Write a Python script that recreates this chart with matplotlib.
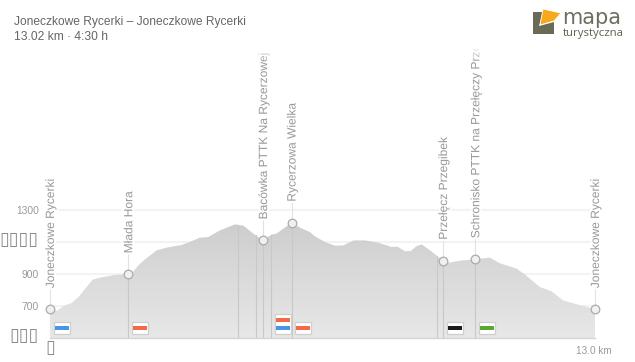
import numpy as np
import matplotlib
matplotlib.use("Agg")
import matplotlib.pyplot as plt
import matplotlib.patheffects as pe
from matplotlib.patches import Polygon, Rectangle
from matplotlib.transforms import Bbox, ScaledTranslation

plt.rcParams['font.family'] = ['Liberation Sans', 'DejaVu Sans']

W, H = 635, 362
DPI = 100

profile_km = [0, .16, .32, .52, .68, 1.02, 1.19, 1.55, 1.87, 1.95, 2.11, 2.31, 2.55, 2.79, 3.14, 3.34,
              3.58, 3.78, 4.06, 4.42, 4.62, 4.86, 5.09, 5.29, 5.41, 5.77, 5.97, 6.21, 6.33, 6.57,
              6.81, 7.01, 7.25, 7.52, 7.84, 8.16, 8.30, 8.48, 8.62, 8.76, 8.88, 9.08, 9.39, 9.55,
              9.79, 10.15, 10.51, 10.75, 11.15, 11.34, 11.70, 11.98, 12.26, 12.62, 13.02]
profile_m = [680, 669, 700, 719, 756, 865, 877, 894, 898, 902, 954, 1000, 1048, 1065, 1081, 1100,
             1127, 1131, 1173, 1210, 1202, 1152, 1110, 1146, 1152, 1221, 1190, 1162, 1135, 1100,
             1077, 1079, 1110, 1110, 1096, 1069, 1071, 1042, 1044, 1075, 1085, 1048, 983, 971,
             983, 992, 1002, 967, 933, 898, 819, 792, 735, 708, 680]

waypoint_names = ["Joneczkowe Rycerki", "Młada Hora", "Bacówka PTTK Na Rycerzowej", "Rycerzowa Wielka",
                  "Przełęcz Przegibek", "Schronisko PTTK na Przełęczy Przegibek", "Joneczkowe Rycerki"]
waypoint_km = [0, 1.87, 5.09, 5.77, 9.39, 10.16, 13.02]
waypoint_m = [680, 898, 1110, 1221, 983, 992, 680]

junction_km = [1.87, 4.50, 4.91, 5.09, 5.29, 5.77, 9.25, 9.39, 10.16]

trail_km = [0, 1.87, 5.29, 5.77, 9.39, 10.16]
trail_colors = [["#4796e6"], ["#f4694a"], ["#4796e6", "#f4694a"], ["#f4694a"], ["#1c1c1c"], ["#5aa832"]]

y_ticks = [500, 700, 900, 1100, 1300]
y_labels = ["▯▯▯", "700", "900", "▯▯▯▯", "1300"]
x_ticks = [0, 13.0]
x_labels = ["▯", "13.0 km"]

title_lines = ["Joneczkowe Rycerki – Joneczkowe Rycerki", "13.02 km · 4:30 h"]

GREY = "#999999"

fig = plt.figure(figsize=(W / DPI, H / DPI), dpi=DPI, facecolor="white")


def fx(x):
    return x / W


def fy(y):
    return 1 - y / H


ax_left, ax_right, ax_top, ax_bottom = 50, 595, 47, 338
ax = fig.add_axes([fx(ax_left), fy(ax_bottom), (ax_right - ax_left) / W, (ax_bottom - ax_top) / H])
ax.set_xlim(0, 13.02)
ax.set_ylim(500, 500 + (ax_bottom - ax_top) * 6.25)
for s in ax.spines.values():
    s.set_visible(False)
ax.patch.set_alpha(0)

# grid
for t in y_ticks[1:]:
    ax.axhline(t, color="#f3f3f3", lw=1.5, zorder=1)
ax.axhline(500, color="#d6d6d6", lw=1.0, zorder=6, clip_on=False)

# gradient-filled profile
poly = ax.fill_between(profile_km, profile_m, 500, color="none", lw=0, zorder=2)
grad = np.linspace(0, 1, 256)[:, None]
img = ax.imshow(grad, cmap=matplotlib.colors.LinearSegmentedColormap.from_list("g", ["#cbcbcb", "#e7e7e7"]),
                extent=[0, 13.02, 500, 1221], aspect="auto", zorder=2, alpha=0.95, origin="upper")
img.set_clip_path(poly.get_paths()[0], transform=ax.transData)
ax.set_xlim(0, 13.02)
ax.set_ylim(500, 500 + (ax_bottom - ax_top) * 6.25)

# junction lines
for k in junction_km:
    ax.plot([k, k], [500, np.interp(k, profile_km, profile_m)], color="#c8c8c8", lw=0.8, zorder=3)

# waypoint stems, labels, markers
label_clip = Bbox([[ax_left - 20, 0], [ax_right + 20, H - ax_top]])
for name, k, m in zip(waypoint_names, waypoint_km, waypoint_m):
    ax.plot([k, k], [m, m + 125], color="#e2e2e2", lw=0.8, zorder=4, clip_on=False)
    t = ax.annotate(name, (k, m), xytext=(1, 21), textcoords="offset pixels", rotation=90, ha="center",
                    va="bottom", fontsize=8.64, color=GREY, zorder=7, annotation_clip=False,
                    path_effects=[pe.withStroke(linewidth=3, foreground="white")])
    t.set_clip_path(None)
    t.set_clip_on(True)
    t.set_clip_box(label_clip)
ax.plot(waypoint_km, waypoint_m, ls="none", marker="o", ms=6.2, mfc="#f0f0f0", mec="#ababab", mew=0.9,
        zorder=8, clip_on=False)

# trail badges
to_px = ax.transData
for k, cols in zip(trail_km, trail_colors):
    px, py = to_px.transform((k, 500))
    bw, bh = 16, 12 + (len(cols) - 1) * 8
    x0 = px + 3.5
    y0 = py + 4
    fig.add_artist(Rectangle((x0, y0), bw, bh, fc="white", ec="#cfcfcf", lw=0.9, transform=None, zorder=9))
    for i, c in enumerate(cols):
        fig.add_artist(Rectangle((x0 + 1, y0 + 4 + i * 8), bw - 2, 4, fc=c, ec="none", transform=None, zorder=10))

# ticks
ax.set_yticks(y_ticks, y_labels, fontsize=7.4, color=GREY)
ax.set_xticks(x_ticks, x_labels, fontsize=7.2, color=GREY)
ax.tick_params(length=0, pad=0)
ax.tick_params(axis="y", pad=8)
ax.tick_params(axis="x", pad=6)
for lab, txt in zip(ax.get_yticklabels(), y_labels):
    if "▯" in txt:
        lab.set_fontfamily("DejaVu Sans")
        lab.set_fontsize(12.8)
        lab.set_color("#8c8c8c")
        lab.set_transform(lab.get_transform() + ScaledTranslation(-0.5 / DPI, 4 / DPI, fig.dpi_scale_trans))
for lab, txt in zip(ax.get_xticklabels(), x_labels):
    if "▯" in txt:
        lab.set_fontfamily("DejaVu Sans")
        lab.set_fontsize(12.8)
        lab.set_color("#8c8c8c")
        lab.set_transform(lab.get_transform() + ScaledTranslation(0, 7 / DPI, fig.dpi_scale_trans))

# fade on top of clipped labels
fade = fig.add_axes([fx(ax_left - 10), fy(62), (ax_right - ax_left + 20) / W, 15 / H], zorder=20)
fade.axis("off")
rgba = np.ones((64, 2, 4))
rgba[:, :, 3] = np.linspace(1, 0, 64)[:, None]
fade.imshow(rgba, aspect="auto")

# title
fig.text(fx(14), fy(24.5), title_lines[0], fontsize=8.64, color="#666666", va="baseline")
fig.text(fx(14), fy(40), title_lines[1], fontsize=8.64, color="#666666", va="baseline")

# logo
olive = "#6a6a56"
olive_pts = [(533, 12), (543, 12), (539, 26), (554, 22), (554, 34), (533, 34)]
orange_pts = [(543, 9), (561, 13), (554, 21), (540, 25)]
fig.add_artist(Polygon([(fx(a), fy(b)) for a, b in olive_pts], fc=olive, ec="none", transform=fig.transFigure))
fig.add_artist(Polygon([(fx(a), fy(b)) for a, b in orange_pts], fc="#f7a81b", ec="white", lw=0.6, transform=fig.transFigure))
fig.text(fx(562.5), fy(24), "mapa", fontsize=15, family="DejaVu Sans", color="#6e6e60", va="baseline", weight="normal")
fig.text(fx(563), fy(36), "turystyczna", fontsize=8.2, family="Open Sans", color="#5f5f50", va="baseline")

fig.savefig("out.png", dpi=DPI)
